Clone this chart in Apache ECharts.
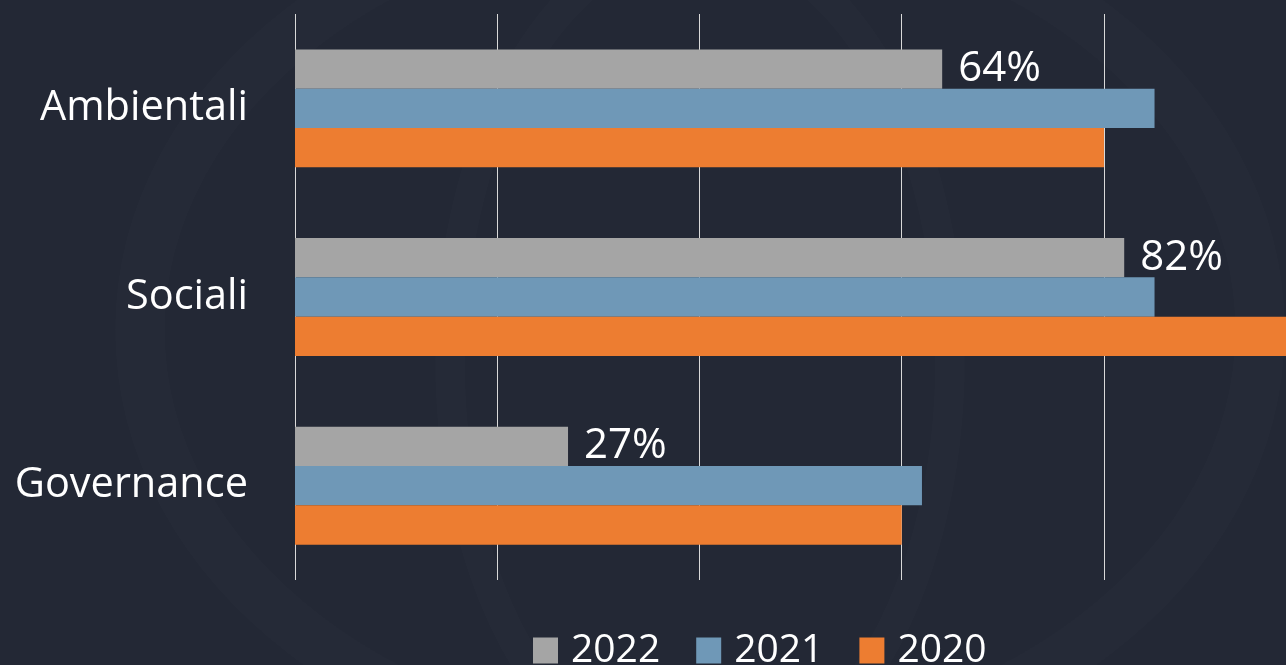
<!DOCTYPE html>
<html>
<head>
<meta charset="utf-8">
<script src="https://cdn.jsdelivr.net/npm/echarts@6/dist/echarts.min.js"></script>
<style>
  html, body { margin: 0; padding: 0; background: #232835; }
  #chart { width: 1286px; height: 665px; }
</style>
</head>
<body>
<div id="chart"></div>
<script>
// ESG chart: share per area, three years
var categories = ['Ambientali', 'Sociali', 'Governance'];
var years = ['2022', '2021', '2020'];
var v2022 = [64, 82, 27];
var v2021 = [85, 85, 62];
var v2020 = [80, 100, 60];

(function() {
  var font = '"Open Sans", "Noto Sans", sans-serif';
  var colors = ['#a5a5a5', '#6f98b7', '#ed7d31'];
  var chart = echarts.init(document.getElementById('chart'), null, { renderer: 'canvas' });

  function bar(name, data, color, withLabel) {
    return {
      name: name,
      type: 'bar',
      data: data,
      barGap: 0,
      barCategoryGap: '37.5%',
      itemStyle: { color: color },
      label: {
        show: withLabel,
        position: 'right',
        distance: 16,
        color: '#ffffff',
        fontFamily: font,
        fontSize: 42,
        formatter: '{c}%'
      }
    };
  }

  chart.setOption({
    animation: false,
    backgroundColor: '#232835',
    color: colors,
    graphic: [
      { type: 'ellipse', z: -10, silent: true,
        shape: { cx: 700, cy: 330, rx: 560, ry: 430 },
        style: { fill: 'none', stroke: 'rgba(255,255,255,0.012)', lineWidth: 50 } },
      { type: 'ellipse', z: -10, silent: true,
        shape: { cx: 700, cy: 360, rx: 250, ry: 420 },
        style: { fill: 'none', stroke: 'rgba(255,255,255,0.01)', lineWidth: 30 } }
    ],
    grid: { left: 295, right: 0, top: 14, bottom: 85, containLabel: false },
    legend: {
      data: years,
      top: 631,
      left: 533,
      padding: 0,
      itemWidth: 25,
      itemHeight: 26,
      itemGap: 36,
      icon: 'rect',
      textStyle: { color: '#ffffff', fontFamily: font, fontSize: 39, padding: [0, 0, 0, 8] }
    },
    // the picture is cut at the right edge, just before the 100% line
    xAxis: {
      type: 'value',
      min: 0,
      max: 98,
      interval: 20,
      axisLabel: { show: false },
      axisLine: { show: false },
      axisTick: { show: false },
      splitLine: { show: true, showMaxLine: false, lineStyle: { color: '#d9d9d9', width: 1 } }
    },
    yAxis: {
      type: 'category',
      inverse: true,
      data: categories,
      axisLine: { show: false },
      axisTick: { show: false },
      axisLabel: { color: '#ffffff', fontFamily: font, fontSize: 41.5, margin: 47 }
    },
    series: [
      bar(years[0], v2022, colors[0], true),
      bar(years[1], v2021, colors[1], false),
      bar(years[2], v2020, colors[2], false)
    ]
  });
  window.addEventListener('resize', function() { chart.resize(); });
})();
</script>
</body>
</html>
